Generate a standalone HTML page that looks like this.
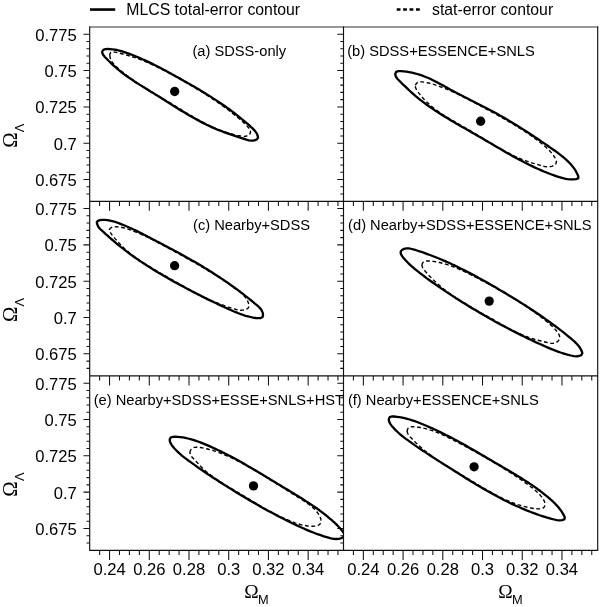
<!DOCTYPE html>
<html lang="en"><head><meta charset="utf-8"><title>MLCS contours</title>
<style>html,body{margin:0;padding:0;background:#fff;}body{width:600px;height:607px;overflow:hidden;}svg{display:block;}
text{font-family:"Liberation Sans",Arial,Helvetica,sans-serif;fill:#000;}
.tk{font-size:16.6px;}.lg{font-size:15.8px;}.pl{font-size:14.68px;}
.om{font-family:"Liberation Serif","Times New Roman",serif;font-size:19.4px;}.sub{font-size:12.8px;}
</style></head><body>
<svg width="600" height="607" viewBox="0 0 600 607">
<rect width="600" height="607" fill="#fff"/>
<defs>
<clipPath id="cpa"><rect x="89.70" y="27.00" width="253.80" height="174.30"/></clipPath>
<clipPath id="cpb"><rect x="343.50" y="27.00" width="254.20" height="174.30"/></clipPath>
<clipPath id="cpc"><rect x="89.70" y="201.30" width="253.80" height="174.60"/></clipPath>
<clipPath id="cpd"><rect x="343.50" y="201.30" width="254.20" height="174.60"/></clipPath>
<clipPath id="cpe"><rect x="89.70" y="375.90" width="253.80" height="174.50"/></clipPath>
<clipPath id="cpf"><rect x="343.50" y="375.90" width="254.20" height="174.50"/></clipPath>
</defs>
<line x1="90" y1="9.55" x2="115.2" y2="9.55" stroke="#000" stroke-width="2.6"/>
<text class="lg" x="126.3" y="14.9">MLCS total-error contour</text>
<line x1="396.7" y1="9.6" x2="420" y2="9.6" stroke="#000" stroke-width="2.5" stroke-dasharray="3.8 2.62"/>
<text class="lg" x="432.0" y="14.9">stat-error contour</text>
<path d="M89.20 27.00H598.20" stroke="#333" stroke-width="1.0" fill="none"/>
<path d="M89.20 201.30H598.20M89.20 375.90H598.20M89.20 550.40H598.20M89.70 26.60V550.90M343.50 26.60V550.90M597.70 26.60V550.90" stroke="#111" stroke-width="1.15" fill="none"/>
<path d="M89.70 194.07h-3.20M343.50 194.07h-3.20M89.70 186.81h-3.20M343.50 186.81h-3.20M89.70 179.54h-6.20M343.50 179.54h-6.20M89.70 172.28h-3.20M343.50 172.28h-3.20M89.70 165.02h-3.20M343.50 165.02h-3.20M89.70 157.75h-3.20M343.50 157.75h-3.20M89.70 150.49h-3.20M343.50 150.49h-3.20M89.70 143.22h-6.20M343.50 143.22h-6.20M89.70 135.96h-3.20M343.50 135.96h-3.20M89.70 128.70h-3.20M343.50 128.70h-3.20M89.70 121.43h-3.20M343.50 121.43h-3.20M89.70 114.17h-3.20M343.50 114.17h-3.20M89.70 106.90h-6.20M343.50 106.90h-6.20M89.70 99.64h-3.20M343.50 99.64h-3.20M89.70 92.38h-3.20M343.50 92.38h-3.20M89.70 85.11h-3.20M343.50 85.11h-3.20M89.70 77.85h-3.20M343.50 77.85h-3.20M89.70 70.58h-6.20M343.50 70.58h-6.20M89.70 63.32h-3.20M343.50 63.32h-3.20M89.70 56.06h-3.20M343.50 56.06h-3.20M89.70 48.79h-3.20M343.50 48.79h-3.20M89.70 41.53h-3.20M343.50 41.53h-3.20M89.70 34.26h-6.20M343.50 34.26h-6.20M99.63 201.30v4.60M109.56 201.30v9.50M119.49 201.30v4.60M129.42 201.30v4.60M139.35 201.30v4.60M149.28 201.30v9.50M159.21 201.30v4.60M169.14 201.30v4.60M179.07 201.30v4.60M189.00 201.30v9.50M198.93 201.30v4.60M208.86 201.30v4.60M218.79 201.30v4.60M228.72 201.30v9.50M238.65 201.30v4.60M248.58 201.30v4.60M258.51 201.30v4.60M268.44 201.30v9.50M278.37 201.30v4.60M288.30 201.30v4.60M298.23 201.30v4.60M308.16 201.30v9.50M318.09 201.30v4.60M328.02 201.30v4.60M337.95 201.30v4.60M353.43 201.30v4.60M363.36 201.30v9.50M373.29 201.30v4.60M383.22 201.30v4.60M393.15 201.30v4.60M403.08 201.30v9.50M413.01 201.30v4.60M422.94 201.30v4.60M432.87 201.30v4.60M442.80 201.30v9.50M452.73 201.30v4.60M462.66 201.30v4.60M472.59 201.30v4.60M482.52 201.30v9.50M492.45 201.30v4.60M502.38 201.30v4.60M512.31 201.30v4.60M522.24 201.30v9.50M532.17 201.30v4.60M542.10 201.30v4.60M552.03 201.30v4.60M561.96 201.30v9.50M571.89 201.30v4.60M581.82 201.30v4.60M591.75 201.30v4.60M89.70 368.37h-3.20M343.50 368.37h-3.20M89.70 361.11h-3.20M343.50 361.11h-3.20M89.70 353.84h-6.20M343.50 353.84h-6.20M89.70 346.58h-3.20M343.50 346.58h-3.20M89.70 339.32h-3.20M343.50 339.32h-3.20M89.70 332.05h-3.20M343.50 332.05h-3.20M89.70 324.79h-3.20M343.50 324.79h-3.20M89.70 317.52h-6.20M343.50 317.52h-6.20M89.70 310.26h-3.20M343.50 310.26h-3.20M89.70 303.00h-3.20M343.50 303.00h-3.20M89.70 295.73h-3.20M343.50 295.73h-3.20M89.70 288.47h-3.20M343.50 288.47h-3.20M89.70 281.20h-6.20M343.50 281.20h-6.20M89.70 273.94h-3.20M343.50 273.94h-3.20M89.70 266.68h-3.20M343.50 266.68h-3.20M89.70 259.41h-3.20M343.50 259.41h-3.20M89.70 252.15h-3.20M343.50 252.15h-3.20M89.70 244.88h-6.20M343.50 244.88h-6.20M89.70 237.62h-3.20M343.50 237.62h-3.20M89.70 230.36h-3.20M343.50 230.36h-3.20M89.70 223.09h-3.20M343.50 223.09h-3.20M89.70 215.83h-3.20M343.50 215.83h-3.20M89.70 208.56h-6.20M343.50 208.56h-6.20M99.63 375.90v4.60M109.56 375.90v9.50M119.49 375.90v4.60M129.42 375.90v4.60M139.35 375.90v4.60M149.28 375.90v9.50M159.21 375.90v4.60M169.14 375.90v4.60M179.07 375.90v4.60M189.00 375.90v9.50M198.93 375.90v4.60M208.86 375.90v4.60M218.79 375.90v4.60M228.72 375.90v9.50M238.65 375.90v4.60M248.58 375.90v4.60M258.51 375.90v4.60M268.44 375.90v9.50M278.37 375.90v4.60M288.30 375.90v4.60M298.23 375.90v4.60M308.16 375.90v9.50M318.09 375.90v4.60M328.02 375.90v4.60M337.95 375.90v4.60M353.43 375.90v4.60M363.36 375.90v9.50M373.29 375.90v4.60M383.22 375.90v4.60M393.15 375.90v4.60M403.08 375.90v9.50M413.01 375.90v4.60M422.94 375.90v4.60M432.87 375.90v4.60M442.80 375.90v9.50M452.73 375.90v4.60M462.66 375.90v4.60M472.59 375.90v4.60M482.52 375.90v9.50M492.45 375.90v4.60M502.38 375.90v4.60M512.31 375.90v4.60M522.24 375.90v9.50M532.17 375.90v4.60M542.10 375.90v4.60M552.03 375.90v4.60M561.96 375.90v9.50M571.89 375.90v4.60M581.82 375.90v4.60M591.75 375.90v4.60M89.70 542.97h-3.20M343.50 542.97h-3.20M89.70 535.71h-3.20M343.50 535.71h-3.20M89.70 528.44h-6.20M343.50 528.44h-6.20M89.70 521.18h-3.20M343.50 521.18h-3.20M89.70 513.92h-3.20M343.50 513.92h-3.20M89.70 506.65h-3.20M343.50 506.65h-3.20M89.70 499.39h-3.20M343.50 499.39h-3.20M89.70 492.12h-6.20M343.50 492.12h-6.20M89.70 484.86h-3.20M343.50 484.86h-3.20M89.70 477.60h-3.20M343.50 477.60h-3.20M89.70 470.33h-3.20M343.50 470.33h-3.20M89.70 463.07h-3.20M343.50 463.07h-3.20M89.70 455.80h-6.20M343.50 455.80h-6.20M89.70 448.54h-3.20M343.50 448.54h-3.20M89.70 441.28h-3.20M343.50 441.28h-3.20M89.70 434.01h-3.20M343.50 434.01h-3.20M89.70 426.75h-3.20M343.50 426.75h-3.20M89.70 419.48h-6.20M343.50 419.48h-6.20M89.70 412.22h-3.20M343.50 412.22h-3.20M89.70 404.96h-3.20M343.50 404.96h-3.20M89.70 397.69h-3.20M343.50 397.69h-3.20M89.70 390.43h-3.20M343.50 390.43h-3.20M89.70 383.16h-6.20M343.50 383.16h-6.20M99.63 550.40v4.60M109.56 550.40v9.50M119.49 550.40v4.60M129.42 550.40v4.60M139.35 550.40v4.60M149.28 550.40v9.50M159.21 550.40v4.60M169.14 550.40v4.60M179.07 550.40v4.60M189.00 550.40v9.50M198.93 550.40v4.60M208.86 550.40v4.60M218.79 550.40v4.60M228.72 550.40v9.50M238.65 550.40v4.60M248.58 550.40v4.60M258.51 550.40v4.60M268.44 550.40v9.50M278.37 550.40v4.60M288.30 550.40v4.60M298.23 550.40v4.60M308.16 550.40v9.50M318.09 550.40v4.60M328.02 550.40v4.60M337.95 550.40v4.60M353.43 550.40v4.60M363.36 550.40v9.50M373.29 550.40v4.60M383.22 550.40v4.60M393.15 550.40v4.60M403.08 550.40v9.50M413.01 550.40v4.60M422.94 550.40v4.60M432.87 550.40v4.60M442.80 550.40v9.50M452.73 550.40v4.60M462.66 550.40v4.60M472.59 550.40v4.60M482.52 550.40v9.50M492.45 550.40v4.60M502.38 550.40v4.60M512.31 550.40v4.60M522.24 550.40v9.50M532.17 550.40v4.60M542.10 550.40v4.60M552.03 550.40v4.60M561.96 550.40v9.50M571.89 550.40v4.60M581.82 550.40v4.60M591.75 550.40v4.60" stroke="#111" stroke-width="1.05" fill="none"/>
<text class="tk" x="76.8" y="40.66" text-anchor="end">0.775</text>
<text class="tk" x="76.8" y="76.98" text-anchor="end">0.75</text>
<text class="tk" x="76.8" y="113.30" text-anchor="end">0.725</text>
<text class="tk" x="76.8" y="149.62" text-anchor="end">0.7</text>
<text class="tk" x="76.8" y="185.94" text-anchor="end">0.675</text>
<text class="tk" x="76.8" y="214.96" text-anchor="end">0.775</text>
<text class="tk" x="76.8" y="251.28" text-anchor="end">0.75</text>
<text class="tk" x="76.8" y="287.60" text-anchor="end">0.725</text>
<text class="tk" x="76.8" y="323.92" text-anchor="end">0.7</text>
<text class="tk" x="76.8" y="360.24" text-anchor="end">0.675</text>
<text class="tk" x="76.8" y="389.56" text-anchor="end">0.775</text>
<text class="tk" x="76.8" y="425.88" text-anchor="end">0.75</text>
<text class="tk" x="76.8" y="462.20" text-anchor="end">0.725</text>
<text class="tk" x="76.8" y="498.52" text-anchor="end">0.7</text>
<text class="tk" x="76.8" y="534.84" text-anchor="end">0.675</text>
<text class="tk" x="109.56" y="575.2" text-anchor="middle">0.24</text>
<text class="tk" x="149.28" y="575.2" text-anchor="middle">0.26</text>
<text class="tk" x="189.00" y="575.2" text-anchor="middle">0.28</text>
<text class="tk" x="228.72" y="575.2" text-anchor="middle">0.3</text>
<text class="tk" x="268.44" y="575.2" text-anchor="middle">0.32</text>
<text class="tk" x="308.16" y="575.2" text-anchor="middle">0.34</text>
<text class="tk" x="363.36" y="575.2" text-anchor="middle">0.24</text>
<text class="tk" x="403.08" y="575.2" text-anchor="middle">0.26</text>
<text class="tk" x="442.80" y="575.2" text-anchor="middle">0.28</text>
<text class="tk" x="482.52" y="575.2" text-anchor="middle">0.3</text>
<text class="tk" x="522.24" y="575.2" text-anchor="middle">0.32</text>
<text class="tk" x="561.96" y="575.2" text-anchor="middle">0.34</text>
<g transform="translate(17.3 147.80) rotate(-90)"><text class="om" style="font-size:20.8px" x="0" y="0">Ω</text><text class="sub" x="15.6" y="6.8">Λ</text></g>
<g transform="translate(17.3 322.10) rotate(-90)"><text class="om" style="font-size:20.8px" x="0" y="0">Ω</text><text class="sub" x="15.6" y="6.8">Λ</text></g>
<g transform="translate(17.3 496.70) rotate(-90)"><text class="om" style="font-size:20.8px" x="0" y="0">Ω</text><text class="sub" x="15.6" y="6.8">Λ</text></g>
<text class="om" x="244.30" y="598.2">Ω</text><text class="sub" x="257.90" y="604">M</text>
<text class="om" x="498.30" y="598.2">Ω</text><text class="sub" x="511.90" y="604">M</text>
<g clip-path="url(#cpa)">
<path d="M109.8 55.7L109.9 53.7L111.0 52.4L112.8 51.9L115.0 52.1L117.4 52.6L119.7 53.2L121.9 53.8L124.1 54.4L126.1 54.9L128.2 55.5L130.1 56.1L132.1 56.7L134.1 57.3L136.0 58.0L138.0 58.7L139.9 59.4L141.9 60.2L143.8 61.0L145.7 61.7L147.6 62.6L149.5 63.4L151.5 64.3L153.4 65.1L155.2 66.0L157.1 66.9L159.0 67.9L160.9 68.8L162.8 69.8L164.7 70.7L166.5 71.7L168.4 72.7L170.2 73.7L172.1 74.7L174.0 75.7L175.8 76.7L177.6 77.7L179.5 78.8L181.3 79.8L183.2 80.9L185.0 81.9L186.8 83.0L188.7 84.0L190.5 85.1L192.3 86.2L194.1 87.2L195.9 88.3L197.7 89.4L199.5 90.5L201.3 91.6L203.1 92.7L204.9 93.8L206.6 95.0L208.4 96.1L210.1 97.3L211.9 98.4L213.6 99.6L215.4 100.8L217.1 101.9L218.8 103.1L220.5 104.3L222.2 105.6L223.9 106.8L225.6 108.0L227.3 109.3L229.0 110.5L230.6 111.8L232.3 113.1L233.9 114.4L235.5 115.7L237.1 117.0L238.7 118.3L240.3 119.7L241.9 121.1L243.5 122.5L245.1 124.0L246.6 125.6L248.2 127.3L249.5 129.0L250.4 130.8L250.5 132.5L249.6 134.2L247.9 135.5L245.9 136.3L243.8 136.5L241.7 136.3L239.6 135.8L237.5 135.4L235.4 134.9L233.3 134.4L231.3 133.8L229.3 133.3L227.3 132.6L225.3 132.0L223.3 131.3L221.3 130.6L219.4 129.9L217.4 129.1L215.5 128.3L213.6 127.4L211.7 126.6L209.8 125.7L207.9 124.8L206.0 123.8L204.1 122.9L202.3 121.9L200.4 120.9L198.6 119.9L196.7 118.9L194.9 117.9L193.1 116.8L191.2 115.7L189.4 114.7L187.6 113.6L185.8 112.5L184.0 111.4L182.2 110.3L180.4 109.2L178.6 108.1L176.8 107.0L175.0 105.9L173.2 104.8L171.4 103.7L169.6 102.6L167.8 101.5L166.0 100.5L164.2 99.4L162.4 98.3L160.6 97.3L158.8 96.2L157.0 95.1L155.2 94.0L153.5 93.0L151.7 91.9L149.9 90.8L148.1 89.7L146.3 88.6L144.6 87.5L142.8 86.4L141.0 85.3L139.3 84.1L137.5 83.0L135.8 81.8L134.1 80.6L132.3 79.4L130.6 78.2L128.9 76.9L127.2 75.7L125.5 74.4L123.8 73.1L122.1 71.7L120.5 70.4L118.8 69.0L117.2 67.6L115.6 66.1L114.2 64.6L112.9 63.0L111.7 61.3L110.8 59.5L110.2 57.7Z" fill="none" stroke="#000" stroke-width="1.4" stroke-dasharray="3.8 2.6"/>
<path d="M102.2 51.5L103.3 49.8L105.3 49.1L107.7 49.0L110.0 49.1L112.4 49.3L114.7 49.6L116.9 50.0L119.2 50.6L121.4 51.2L123.6 51.8L125.8 52.6L128.0 53.4L130.2 54.2L132.4 55.0L134.5 55.8L136.7 56.7L138.8 57.6L140.9 58.5L143.0 59.5L145.1 60.4L147.2 61.4L149.3 62.4L151.4 63.4L153.5 64.4L155.6 65.5L157.6 66.5L159.7 67.6L161.8 68.7L163.8 69.7L165.8 70.8L167.9 71.9L169.9 73.0L171.9 74.2L174.0 75.3L176.0 76.4L178.0 77.5L180.0 78.6L182.0 79.8L184.0 80.9L186.0 82.0L188.0 83.2L190.0 84.3L192.0 85.5L194.0 86.6L196.0 87.8L198.0 88.9L200.0 90.1L201.9 91.3L203.9 92.5L205.8 93.7L207.8 94.9L209.7 96.1L211.7 97.4L213.6 98.6L215.6 99.9L217.5 101.1L219.4 102.4L221.3 103.7L223.2 105.0L225.1 106.3L227.0 107.7L228.9 109.0L230.8 110.4L232.6 111.8L234.5 113.2L236.3 114.7L238.2 116.1L240.0 117.6L241.8 119.1L243.7 120.6L245.5 122.1L247.3 123.6L249.1 125.2L250.8 126.8L252.6 128.4L254.2 130.1L255.7 131.9L256.9 133.7L257.7 135.7L258.0 137.7L257.0 139.2L255.2 140.2L253.2 140.6L251.0 140.6L248.8 140.3L246.4 139.7L244.1 138.9L241.7 138.1L239.4 137.4L237.1 136.6L234.9 135.9L232.7 135.1L230.4 134.4L228.2 133.7L226.1 132.9L223.9 132.1L221.8 131.3L219.7 130.5L217.5 129.7L215.4 128.8L213.3 127.9L211.3 126.9L209.2 126.0L207.1 125.0L205.1 124.0L203.0 122.9L201.0 121.9L198.9 120.8L196.9 119.7L194.9 118.6L192.9 117.5L190.9 116.3L188.9 115.2L186.9 114.0L184.9 112.8L182.9 111.6L180.9 110.4L178.9 109.2L177.0 108.0L175.0 106.7L173.0 105.5L171.1 104.3L169.1 103.0L167.1 101.8L165.1 100.5L163.2 99.3L161.2 98.0L159.2 96.8L157.3 95.6L155.3 94.4L153.3 93.1L151.3 91.9L149.3 90.7L147.4 89.5L145.4 88.3L143.4 87.1L141.5 85.9L139.5 84.6L137.6 83.4L135.6 82.2L133.7 80.9L131.8 79.6L129.9 78.3L128.0 77.0L126.1 75.7L124.3 74.4L122.5 73.0L120.7 71.6L118.9 70.2L117.1 68.7L115.4 67.2L113.7 65.7L112.0 64.1L110.3 62.5L108.6 60.8L106.9 59.0L105.1 57.2L103.5 55.3L102.4 53.4Z" fill="none" stroke="#000" stroke-width="2.3" stroke-linejoin="round"/>
<circle cx="174.70" cy="91.50" r="4.65" fill="#000"/>
</g>
<g clip-path="url(#cpb)">
<path d="M415.4 85.3L416.2 83.7L417.7 82.5L419.7 81.9L421.9 81.9L424.1 82.1L426.3 82.5L428.5 83.0L430.6 83.5L432.6 84.1L434.6 84.7L436.6 85.4L438.6 86.1L440.6 86.8L442.5 87.5L444.5 88.3L446.4 89.1L448.4 89.9L450.3 90.7L452.2 91.5L454.1 92.4L456.0 93.3L457.9 94.2L459.8 95.1L461.7 96.0L463.6 97.0L465.5 97.9L467.4 98.9L469.3 99.9L471.1 100.8L473.0 101.8L474.9 102.8L476.7 103.8L478.6 104.8L480.5 105.8L482.3 106.9L484.2 107.9L486.0 108.9L487.9 109.9L489.8 110.9L491.6 112.0L493.5 113.0L495.4 114.0L497.2 115.0L499.1 116.1L500.9 117.1L502.8 118.1L504.6 119.2L506.5 120.2L508.3 121.3L510.1 122.4L512.0 123.4L513.8 124.5L515.6 125.6L517.4 126.7L519.2 127.8L521.0 128.9L522.7 130.1L524.5 131.2L526.3 132.4L528.0 133.5L529.7 134.7L531.4 135.9L533.2 137.2L534.8 138.4L536.5 139.6L538.2 140.9L539.8 142.2L541.5 143.5L543.1 144.8L544.7 146.1L546.3 147.5L547.8 149.0L549.3 150.5L550.8 152.1L552.2 153.8L553.6 155.7L554.9 157.6L555.8 159.6L556.4 161.4L556.2 163.1L555.3 164.5L553.7 165.6L551.6 166.4L549.3 166.8L547.1 166.8L544.9 166.6L542.9 166.1L540.9 165.5L538.8 164.9L536.8 164.3L534.8 163.7L532.7 163.1L530.7 162.4L528.7 161.8L526.7 161.1L524.7 160.3L522.7 159.6L520.8 158.8L518.8 158.0L516.9 157.1L515.0 156.3L513.1 155.4L511.2 154.4L509.3 153.5L507.4 152.6L505.6 151.6L503.7 150.6L501.9 149.6L500.0 148.6L498.2 147.5L496.4 146.5L494.5 145.4L492.7 144.3L490.9 143.3L489.1 142.2L487.3 141.1L485.5 140.0L483.7 138.9L481.9 137.8L480.1 136.7L478.3 135.6L476.5 134.5L474.6 133.4L472.8 132.3L471.0 131.2L469.2 130.1L467.4 129.0L465.5 128.0L463.7 126.9L461.8 125.9L460.0 124.8L458.2 123.8L456.3 122.7L454.5 121.7L452.6 120.6L450.8 119.5L449.0 118.4L447.2 117.4L445.4 116.3L443.7 115.1L441.9 114.0L440.2 112.8L438.4 111.6L436.8 110.4L435.1 109.2L433.4 107.9L431.8 106.6L430.2 105.2L428.7 103.8L427.1 102.4L425.6 100.9L424.2 99.4L422.7 97.8L421.3 96.2L419.9 94.4L418.5 92.7L417.2 90.8L416.1 88.9L415.4 87.1Z" fill="none" stroke="#000" stroke-width="1.4" stroke-dasharray="3.8 2.6"/>
<path d="M395.2 74.1L396.1 71.9L398.3 71.1L401.0 71.2L403.8 71.4L406.5 71.7L409.2 72.1L412.0 72.7L414.7 73.3L417.3 74.0L420.0 74.8L422.6 75.7L425.1 76.7L427.6 77.7L430.1 78.8L432.5 80.0L434.9 81.2L437.3 82.4L439.7 83.7L442.1 85.0L444.4 86.3L446.8 87.6L449.2 88.9L451.5 90.2L453.9 91.5L456.3 92.8L458.7 94.0L461.2 95.3L463.6 96.6L466.0 97.8L468.5 99.0L470.9 100.3L473.4 101.5L475.8 102.8L478.2 104.0L480.7 105.2L483.1 106.5L485.6 107.7L488.0 109.0L490.4 110.3L492.8 111.5L495.2 112.8L497.6 114.1L499.9 115.5L502.3 116.8L504.6 118.1L507.0 119.5L509.3 120.9L511.6 122.3L513.9 123.7L516.2 125.1L518.5 126.5L520.8 127.9L523.1 129.4L525.3 130.8L527.6 132.3L529.9 133.8L532.2 135.3L534.4 136.8L536.7 138.3L539.0 139.8L541.2 141.4L543.5 142.9L545.8 144.5L548.1 146.0L550.3 147.6L552.6 149.2L554.9 150.8L557.2 152.4L559.4 154.1L561.6 155.8L563.7 157.5L565.8 159.3L567.7 161.1L569.6 163.0L571.4 165.0L573.1 167.1L574.6 169.2L576.0 171.4L577.2 173.8L578.3 176.2L578.3 178.3L575.9 179.1L573.0 179.4L570.2 179.4L567.4 179.1L564.7 178.6L562.0 177.9L559.4 177.2L556.7 176.3L554.1 175.4L551.6 174.5L549.0 173.5L546.5 172.5L543.9 171.5L541.4 170.4L538.9 169.3L536.5 168.2L534.0 167.1L531.6 165.9L529.1 164.7L526.7 163.5L524.3 162.3L521.9 161.0L519.5 159.8L517.1 158.5L514.7 157.2L512.4 155.9L510.0 154.5L507.6 153.2L505.3 151.9L502.9 150.5L500.6 149.1L498.2 147.8L495.9 146.4L493.5 145.0L491.2 143.6L488.8 142.3L486.5 140.9L484.1 139.5L481.8 138.1L479.4 136.8L477.1 135.4L474.7 134.0L472.3 132.7L469.9 131.3L467.6 130.0L465.2 128.6L462.8 127.3L460.4 125.9L458.1 124.6L455.7 123.2L453.4 121.8L451.0 120.4L448.7 119.0L446.4 117.6L444.0 116.2L441.7 114.8L439.4 113.3L437.2 111.8L434.9 110.4L432.7 108.8L430.4 107.3L428.2 105.8L426.0 104.2L423.9 102.6L421.7 100.9L419.6 99.3L417.5 97.6L415.4 95.9L413.4 94.1L411.4 92.3L409.4 90.5L407.4 88.6L405.4 86.7L403.4 84.8L401.3 82.8L399.3 80.7L397.3 78.7L395.8 76.5Z" fill="none" stroke="#000" stroke-width="2.3" stroke-linejoin="round"/>
<circle cx="480.65" cy="121.25" r="4.65" fill="#000"/>
</g>
<g clip-path="url(#cpc)">
<path d="M109.4 229.6L110.1 228.4L111.6 227.5L113.6 227.0L115.8 226.8L118.0 226.9L120.1 227.1L122.2 227.5L124.2 228.0L126.2 228.6L128.2 229.2L130.1 229.9L132.1 230.6L134.1 231.4L136.0 232.1L137.9 232.9L139.9 233.7L141.8 234.6L143.7 235.4L145.6 236.3L147.5 237.2L149.3 238.1L151.2 239.0L153.1 240.0L154.9 240.9L156.8 241.9L158.7 242.8L160.5 243.8L162.3 244.8L164.2 245.8L166.0 246.8L167.9 247.8L169.7 248.8L171.5 249.8L173.3 250.8L175.2 251.8L177.0 252.8L178.8 253.8L180.6 254.8L182.5 255.8L184.3 256.8L186.1 257.8L187.9 258.8L189.7 259.8L191.5 260.8L193.3 261.9L195.1 262.9L196.9 263.9L198.7 265.0L200.5 266.0L202.3 267.1L204.1 268.1L205.9 269.2L207.6 270.3L209.4 271.3L211.2 272.4L213.0 273.5L214.7 274.7L216.5 275.8L218.3 276.9L220.0 278.0L221.8 279.2L223.5 280.4L225.3 281.5L227.0 282.7L228.7 283.9L230.5 285.1L232.2 286.3L233.9 287.6L235.7 288.8L237.4 290.1L239.1 291.4L240.7 292.7L242.3 294.1L243.7 295.6L245.1 297.1L246.3 298.8L247.4 300.5L248.2 302.4L248.9 304.4L249.0 306.3L248.4 307.9L247.0 309.0L245.0 309.8L242.7 310.1L240.4 310.2L238.3 309.9L236.2 309.5L234.2 308.9L232.2 308.3L230.2 307.7L228.2 307.1L226.2 306.4L224.3 305.7L222.3 305.0L220.3 304.3L218.4 303.5L216.5 302.7L214.5 301.9L212.6 301.1L210.7 300.3L208.8 299.4L206.9 298.5L205.1 297.7L203.2 296.8L201.3 295.8L199.5 294.9L197.7 294.0L195.8 293.0L194.0 292.0L192.2 291.0L190.3 290.1L188.5 289.1L186.7 288.0L184.9 287.0L183.1 286.0L181.2 285.0L179.4 283.9L177.6 282.9L175.8 281.9L174.0 280.8L172.2 279.8L170.4 278.7L168.5 277.7L166.7 276.7L164.9 275.6L163.1 274.6L161.2 273.5L159.4 272.5L157.6 271.4L155.8 270.4L153.9 269.3L152.1 268.3L150.3 267.2L148.5 266.1L146.8 265.0L145.0 263.9L143.2 262.8L141.5 261.6L139.8 260.5L138.0 259.3L136.4 258.1L134.7 256.9L133.0 255.7L131.4 254.4L129.8 253.2L128.3 251.8L126.7 250.5L125.2 249.2L123.7 247.8L122.3 246.3L120.8 244.9L119.4 243.4L117.9 241.8L116.5 240.2L115.1 238.6L113.6 236.8L112.2 235.1L110.8 233.2L109.7 231.4Z" fill="none" stroke="#000" stroke-width="1.4" stroke-dasharray="3.8 2.6"/>
<path d="M96.8 222.2L97.9 220.8L100.0 220.2L102.3 219.9L104.7 219.9L107.2 220.1L109.6 220.5L112.0 221.1L114.5 221.7L116.9 222.5L119.3 223.4L121.7 224.3L124.0 225.2L126.3 226.2L128.6 227.2L130.9 228.2L133.1 229.3L135.3 230.3L137.5 231.4L139.7 232.5L141.9 233.6L144.0 234.7L146.2 235.8L148.3 236.9L150.5 238.1L152.7 239.2L154.8 240.3L157.0 241.5L159.2 242.6L161.4 243.8L163.6 244.9L165.8 246.1L168.0 247.2L170.2 248.4L172.4 249.6L174.6 250.8L176.8 251.9L179.0 253.1L181.2 254.3L183.3 255.5L185.5 256.7L187.7 257.9L189.9 259.2L192.0 260.4L194.2 261.6L196.3 262.8L198.4 264.1L200.5 265.3L202.6 266.6L204.7 267.9L206.8 269.1L208.9 270.4L211.0 271.7L213.0 273.0L215.1 274.4L217.1 275.7L219.2 277.0L221.2 278.4L223.2 279.7L225.3 281.1L227.3 282.5L229.3 283.9L231.3 285.4L233.3 286.8L235.3 288.2L237.3 289.7L239.3 291.2L241.3 292.7L243.3 294.2L245.3 295.8L247.3 297.3L249.2 298.9L251.2 300.5L253.2 302.1L255.2 303.8L257.2 305.4L259.0 307.1L260.7 308.9L261.9 310.9L262.8 312.9L263.0 315.2L262.5 317.1L260.8 318.1L258.4 318.2L255.7 318.0L253.0 317.6L250.5 317.0L248.0 316.4L245.5 315.8L243.2 315.0L240.8 314.2L238.5 313.3L236.3 312.4L234.0 311.5L231.8 310.5L229.5 309.5L227.3 308.5L225.1 307.5L222.9 306.4L220.6 305.4L218.4 304.4L216.2 303.3L214.0 302.3L211.8 301.2L209.5 300.1L207.3 299.1L205.1 298.0L202.9 296.9L200.7 295.8L198.5 294.6L196.3 293.5L194.1 292.4L191.9 291.3L189.7 290.1L187.5 289.0L185.3 287.8L183.2 286.6L181.0 285.4L178.8 284.3L176.6 283.1L174.5 281.9L172.3 280.7L170.2 279.4L168.0 278.2L165.9 277.0L163.7 275.7L161.6 274.5L159.4 273.2L157.3 272.0L155.2 270.7L153.1 269.4L151.0 268.1L148.9 266.8L146.8 265.4L144.7 264.1L142.7 262.8L140.6 261.4L138.6 260.0L136.6 258.6L134.5 257.2L132.5 255.8L130.5 254.4L128.5 252.9L126.6 251.4L124.6 249.9L122.7 248.4L120.7 246.9L118.8 245.4L116.9 243.8L115.0 242.2L113.2 240.6L111.3 239.0L109.4 237.4L107.6 235.7L105.7 234.1L103.9 232.4L102.0 230.7L100.1 229.0L98.5 227.0L97.3 224.6Z" fill="none" stroke="#000" stroke-width="2.3" stroke-linejoin="round"/>
<circle cx="174.60" cy="265.70" r="4.65" fill="#000"/>
</g>
<g clip-path="url(#cpd)">
<path d="M421.9 265.2L422.3 263.5L423.3 262.1L425.0 261.3L427.0 261.0L429.1 261.0L431.3 261.2L433.4 261.4L435.5 261.7L437.6 262.1L439.6 262.5L441.6 263.0L443.6 263.5L445.6 264.1L447.6 264.7L449.5 265.4L451.5 266.1L453.4 266.8L455.3 267.5L457.2 268.3L459.0 269.1L460.9 270.0L462.8 270.8L464.6 271.7L466.5 272.6L468.3 273.5L470.1 274.4L472.0 275.3L473.8 276.3L475.6 277.2L477.5 278.2L479.3 279.1L481.1 280.1L483.0 281.0L484.8 282.0L486.6 283.0L488.4 284.0L490.3 284.9L492.1 285.9L493.9 286.9L495.7 287.9L497.5 289.0L499.3 290.0L501.1 291.0L502.9 292.1L504.7 293.1L506.5 294.2L508.3 295.2L510.1 296.3L511.9 297.4L513.6 298.4L515.4 299.5L517.1 300.6L518.9 301.7L520.6 302.8L522.4 304.0L524.1 305.1L525.8 306.2L527.5 307.4L529.2 308.6L530.9 309.7L532.6 310.9L534.2 312.1L535.9 313.3L537.5 314.5L539.2 315.7L540.8 316.9L542.4 318.2L544.0 319.4L545.6 320.7L547.2 321.9L548.7 323.2L550.3 324.6L551.9 326.0L553.4 327.5L554.9 329.1L556.4 330.8L557.8 332.6L558.9 334.4L559.6 336.3L559.7 338.1L559.1 339.7L558.0 341.2L556.4 342.4L554.6 343.1L552.6 343.4L550.5 343.2L548.4 342.8L546.2 342.2L544.1 341.7L542.1 341.2L540.0 340.7L538.0 340.2L536.0 339.7L534.0 339.1L532.0 338.5L530.1 337.8L528.2 337.2L526.2 336.5L524.3 335.7L522.4 334.9L520.6 334.1L518.7 333.3L516.8 332.4L515.0 331.5L513.2 330.6L511.3 329.7L509.5 328.8L507.7 327.8L505.9 326.8L504.1 325.8L502.3 324.8L500.5 323.8L498.7 322.8L496.9 321.8L495.1 320.7L493.3 319.7L491.5 318.7L489.7 317.6L487.9 316.6L486.1 315.6L484.3 314.6L482.4 313.5L480.6 312.5L478.8 311.5L477.0 310.5L475.2 309.4L473.4 308.4L471.6 307.4L469.8 306.3L468.1 305.3L466.3 304.2L464.5 303.1L462.8 302.1L461.0 301.0L459.3 299.9L457.5 298.7L455.8 297.6L454.1 296.5L452.4 295.3L450.7 294.1L449.1 293.0L447.4 291.7L445.8 290.5L444.1 289.3L442.5 288.0L441.0 286.7L439.4 285.4L437.9 284.1L436.3 282.7L434.8 281.3L433.4 279.9L431.9 278.5L430.5 277.0L429.0 275.5L427.6 273.9L426.1 272.3L424.6 270.5L423.2 268.8L422.3 267.0Z" fill="none" stroke="#000" stroke-width="1.4" stroke-dasharray="3.8 2.6"/>
<path d="M400.7 251.7L402.0 249.9L404.1 248.8L406.5 248.3L409.0 248.4L411.7 249.0L414.3 249.7L417.0 250.5L419.6 251.4L422.3 252.2L424.9 253.1L427.4 254.1L430.0 255.0L432.6 256.0L435.1 257.0L437.6 258.0L440.1 259.0L442.6 260.1L445.1 261.1L447.6 262.2L450.0 263.3L452.5 264.5L454.9 265.6L457.3 266.8L459.7 268.0L462.1 269.2L464.5 270.4L466.9 271.6L469.3 272.8L471.7 274.1L474.0 275.3L476.4 276.6L478.7 277.9L481.1 279.2L483.4 280.5L485.8 281.8L488.1 283.1L490.4 284.5L492.8 285.8L495.1 287.1L497.4 288.5L499.7 289.9L502.1 291.2L504.4 292.6L506.7 294.0L509.0 295.4L511.3 296.8L513.6 298.2L515.9 299.6L518.2 301.0L520.5 302.4L522.8 303.9L525.1 305.3L527.3 306.8L529.6 308.2L531.8 309.7L534.1 311.2L536.3 312.7L538.6 314.2L540.8 315.8L543.0 317.3L545.2 318.9L547.4 320.4L549.6 322.0L551.8 323.6L554.0 325.2L556.2 326.8L558.3 328.4L560.5 330.1L562.6 331.7L564.7 333.4L566.8 335.1L568.9 336.8L571.0 338.5L573.1 340.3L575.1 342.1L576.9 344.0L578.7 346.0L580.2 348.2L581.5 350.6L582.4 353.1L581.4 355.1L579.0 356.0L576.4 356.3L573.8 356.1L571.0 355.5L568.3 354.8L565.7 354.1L563.1 353.3L560.5 352.5L557.9 351.6L555.4 350.6L552.8 349.6L550.3 348.6L547.9 347.6L545.4 346.5L542.9 345.4L540.5 344.3L538.1 343.2L535.6 342.1L533.2 340.9L530.8 339.8L528.3 338.6L525.9 337.5L523.5 336.3L521.1 335.1L518.7 333.9L516.3 332.7L513.9 331.5L511.5 330.3L509.1 329.0L506.8 327.8L504.4 326.5L502.0 325.2L499.6 324.0L497.3 322.7L494.9 321.4L492.6 320.1L490.2 318.7L487.9 317.4L485.5 316.1L483.2 314.7L480.9 313.4L478.5 312.0L476.2 310.6L473.9 309.3L471.6 307.9L469.3 306.5L466.9 305.0L464.6 303.6L462.3 302.2L460.0 300.8L457.8 299.3L455.5 297.9L453.2 296.4L450.9 294.9L448.6 293.4L446.4 291.9L444.1 290.4L441.9 288.9L439.7 287.4L437.5 285.9L435.3 284.3L433.1 282.8L430.9 281.2L428.8 279.7L426.6 278.1L424.5 276.5L422.4 274.9L420.3 273.3L418.2 271.7L416.2 270.1L414.1 268.4L412.1 266.6L410.1 264.8L408.0 262.8L406.0 260.7L403.9 258.4L402.1 256.1L400.8 253.8Z" fill="none" stroke="#000" stroke-width="2.3" stroke-linejoin="round"/>
<circle cx="489.20" cy="301.10" r="4.65" fill="#000"/>
</g>
<g clip-path="url(#cpe)">
<path d="M189.9 452.5L190.3 450.7L191.3 449.2L192.7 448.0L194.3 447.4L196.2 447.2L198.2 447.3L200.3 447.5L202.3 447.9L204.4 448.3L206.4 448.7L208.3 449.2L210.3 449.7L212.2 450.2L214.1 450.8L216.0 451.4L217.8 452.1L219.7 452.8L221.5 453.5L223.3 454.2L225.1 455.0L226.9 455.8L228.6 456.6L230.4 457.4L232.2 458.2L233.9 459.1L235.7 460.0L237.4 460.9L239.2 461.7L240.9 462.7L242.7 463.6L244.4 464.5L246.1 465.5L247.9 466.4L249.6 467.4L251.3 468.4L253.0 469.3L254.7 470.3L256.4 471.3L258.2 472.3L259.9 473.4L261.6 474.4L263.3 475.4L265.0 476.4L266.6 477.5L268.3 478.5L270.0 479.6L271.7 480.6L273.4 481.7L275.1 482.7L276.7 483.8L278.4 484.8L280.1 485.9L281.8 487.0L283.4 488.0L285.1 489.1L286.8 490.1L288.4 491.2L290.1 492.2L291.7 493.3L293.4 494.3L295.1 495.4L296.7 496.4L298.4 497.4L300.0 498.4L301.7 499.5L303.3 500.5L304.9 501.6L306.5 502.7L308.1 503.8L309.7 505.0L311.3 506.3L312.8 507.6L314.3 509.0L315.7 510.4L317.0 512.0L318.2 513.6L319.2 515.3L320.1 517.1L320.8 519.0L321.1 520.9L320.8 522.6L320.0 524.1L318.5 525.2L316.7 525.8L314.7 526.1L312.6 526.2L310.6 526.2L308.6 526.1L306.6 525.8L304.6 525.5L302.7 525.1L300.8 524.6L298.9 524.0L297.0 523.4L295.1 522.8L293.3 522.1L291.4 521.4L289.6 520.7L287.7 520.0L285.9 519.2L284.1 518.4L282.3 517.6L280.6 516.8L278.8 515.9L277.0 515.0L275.3 514.1L273.5 513.2L271.8 512.3L270.1 511.4L268.3 510.4L266.6 509.5L264.9 508.5L263.2 507.5L261.5 506.5L259.8 505.5L258.1 504.5L256.4 503.5L254.7 502.5L253.0 501.4L251.3 500.4L249.6 499.4L247.9 498.4L246.2 497.4L244.5 496.4L242.8 495.4L241.2 494.3L239.5 493.3L237.8 492.3L236.1 491.3L234.4 490.3L232.7 489.3L231.0 488.3L229.3 487.3L227.6 486.3L225.9 485.3L224.3 484.2L222.6 483.2L220.9 482.1L219.2 481.0L217.6 479.9L215.9 478.8L214.3 477.7L212.7 476.5L211.1 475.4L209.5 474.2L208.0 473.0L206.4 471.7L205.0 470.5L203.5 469.2L202.2 467.8L200.8 466.5L199.5 465.1L198.2 463.6L196.9 462.2L195.4 460.7L193.9 459.1L192.4 457.5L191.1 455.9L190.3 454.2Z" fill="none" stroke="#000" stroke-width="1.4" stroke-dasharray="3.8 2.6"/>
<path d="M169.7 439.4L170.7 437.6L172.7 436.8L175.2 436.7L177.8 436.8L180.3 437.1L182.9 437.4L185.4 437.9L187.9 438.5L190.5 439.1L193.0 439.8L195.4 440.6L197.9 441.5L200.4 442.4L202.8 443.4L205.2 444.4L207.7 445.4L210.0 446.4L212.4 447.5L214.8 448.6L217.2 449.7L219.5 450.8L221.8 451.9L224.1 453.1L226.5 454.2L228.8 455.4L231.0 456.6L233.3 457.8L235.6 459.1L237.9 460.3L240.1 461.6L242.4 462.8L244.6 464.1L246.8 465.4L249.1 466.7L251.3 468.0L253.5 469.3L255.7 470.6L258.0 471.9L260.2 473.3L262.4 474.6L264.6 475.9L266.8 477.3L269.0 478.6L271.2 479.9L273.4 481.3L275.7 482.6L277.9 484.0L280.1 485.3L282.3 486.6L284.5 488.0L286.8 489.3L289.0 490.6L291.2 492.0L293.4 493.3L295.6 494.7L297.9 496.0L300.1 497.4L302.3 498.8L304.4 500.2L306.6 501.6L308.8 503.0L310.9 504.4L313.1 505.9L315.2 507.3L317.3 508.8L319.4 510.3L321.5 511.9L323.5 513.4L325.6 515.0L327.6 516.6L329.5 518.3L331.5 519.9L333.4 521.7L335.3 523.4L337.2 525.2L339.1 527.2L340.9 529.2L342.7 531.5L344.1 533.7L344.3 535.7L343.1 537.3L341.0 538.3L338.7 538.9L336.2 539.0L333.6 538.8L331.0 538.3L328.4 537.6L325.8 536.9L323.2 536.1L320.7 535.2L318.2 534.4L315.7 533.5L313.3 532.5L310.9 531.6L308.5 530.6L306.1 529.6L303.8 528.5L301.4 527.5L299.1 526.4L296.8 525.4L294.5 524.3L292.2 523.2L289.9 522.0L287.6 520.9L285.3 519.8L283.0 518.6L280.7 517.4L278.4 516.2L276.1 515.1L273.8 513.8L271.5 512.6L269.3 511.4L267.0 510.2L264.7 508.9L262.5 507.7L260.2 506.4L257.9 505.1L255.7 503.8L253.4 502.5L251.2 501.2L249.0 499.9L246.7 498.6L244.5 497.3L242.3 495.9L240.0 494.6L237.8 493.2L235.6 491.9L233.4 490.5L231.2 489.1L228.9 487.8L226.7 486.4L224.5 485.0L222.3 483.6L220.1 482.2L218.0 480.8L215.8 479.4L213.6 478.0L211.4 476.5L209.3 475.1L207.1 473.7L205.0 472.2L202.9 470.8L200.7 469.3L198.6 467.9L196.5 466.4L194.5 464.9L192.4 463.4L190.3 461.9L188.3 460.5L186.2 458.9L184.2 457.4L182.2 455.8L180.3 454.2L178.3 452.4L176.4 450.5L174.5 448.5L172.6 446.3L171.0 443.9L169.9 441.6Z" fill="none" stroke="#000" stroke-width="2.3" stroke-linejoin="round"/>
<circle cx="253.50" cy="485.90" r="4.65" fill="#000"/>
</g>
<g clip-path="url(#cpf)">
<path d="M407.1 431.4L407.4 429.6L408.3 428.0L409.8 427.0L411.7 426.7L413.9 426.8L416.1 427.0L418.2 427.2L420.3 427.5L422.4 427.9L424.4 428.4L426.5 428.9L428.5 429.5L430.4 430.1L432.4 430.7L434.3 431.4L436.2 432.1L438.2 432.9L440.0 433.7L441.9 434.5L443.8 435.3L445.6 436.2L447.5 437.1L449.3 438.0L451.2 438.9L453.0 439.8L454.8 440.8L456.6 441.8L458.5 442.7L460.3 443.7L462.1 444.7L463.9 445.6L465.8 446.6L467.6 447.6L469.4 448.6L471.2 449.6L473.0 450.6L474.9 451.6L476.7 452.6L478.5 453.6L480.3 454.6L482.1 455.6L483.9 456.6L485.7 457.7L487.5 458.7L489.3 459.7L491.1 460.8L492.9 461.8L494.7 462.9L496.5 463.9L498.2 465.0L500.0 466.1L501.8 467.2L503.5 468.3L505.3 469.3L507.0 470.4L508.8 471.6L510.5 472.7L512.2 473.8L513.9 474.9L515.7 476.1L517.4 477.2L519.1 478.4L520.7 479.5L522.4 480.7L524.1 481.9L525.7 483.1L527.4 484.3L529.0 485.5L530.7 486.7L532.3 487.9L533.9 489.2L535.4 490.5L537.0 491.9L538.5 493.3L540.0 494.9L541.4 496.6L542.8 498.4L543.9 500.3L544.7 502.2L545.0 504.1L544.7 506.0L543.8 507.6L542.3 508.6L540.4 508.9L538.3 508.9L536.2 508.8L534.1 508.5L532.0 508.2L530.0 507.9L527.9 507.4L525.8 506.9L523.8 506.4L521.8 505.8L519.8 505.2L517.8 504.6L515.9 503.9L513.9 503.2L512.0 502.5L510.1 501.7L508.2 500.9L506.3 500.1L504.4 499.2L502.6 498.4L500.7 497.5L498.9 496.6L497.1 495.6L495.3 494.7L493.5 493.7L491.7 492.7L489.9 491.7L488.1 490.7L486.3 489.7L484.5 488.6L482.8 487.6L481.0 486.6L479.2 485.5L477.4 484.4L475.7 483.4L473.9 482.3L472.1 481.2L470.4 480.2L468.6 479.1L466.8 478.0L465.0 477.0L463.2 475.9L461.4 474.8L459.6 473.8L457.9 472.7L456.1 471.7L454.3 470.6L452.5 469.5L450.7 468.4L448.9 467.4L447.2 466.3L445.4 465.2L443.7 464.1L441.9 463.0L440.2 461.8L438.5 460.7L436.8 459.5L435.1 458.4L433.4 457.2L431.7 456.0L430.1 454.8L428.4 453.5L426.8 452.3L425.2 451.0L423.7 449.7L422.1 448.4L420.6 447.1L419.1 445.7L417.6 444.3L416.1 442.9L414.6 441.4L413.1 439.9L411.6 438.3L410.0 436.7L408.7 435.0L407.6 433.3Z" fill="none" stroke="#000" stroke-width="1.4" stroke-dasharray="3.8 2.6"/>
<path d="M388.8 419.0L389.7 417.2L391.7 416.5L394.3 416.5L396.9 416.8L399.5 417.1L402.1 417.6L404.6 418.1L407.2 418.8L409.7 419.5L412.2 420.3L414.7 421.1L417.2 422.0L419.6 423.0L422.1 424.0L424.5 425.0L426.9 426.0L429.3 427.1L431.7 428.1L434.1 429.2L436.5 430.3L438.9 431.5L441.2 432.6L443.6 433.8L445.9 435.0L448.2 436.1L450.6 437.3L452.9 438.6L455.2 439.8L457.5 441.0L459.8 442.3L462.1 443.5L464.4 444.8L466.7 446.1L468.9 447.4L471.2 448.7L473.5 450.0L475.7 451.3L478.0 452.6L480.2 453.9L482.5 455.2L484.8 456.6L487.0 457.9L489.3 459.2L491.5 460.5L493.8 461.9L496.0 463.2L498.3 464.5L500.5 465.8L502.8 467.2L505.0 468.5L507.3 469.8L509.5 471.1L511.8 472.4L514.0 473.8L516.3 475.1L518.5 476.5L520.7 477.8L522.9 479.2L525.1 480.6L527.3 482.0L529.5 483.5L531.7 484.9L533.8 486.4L536.0 487.9L538.1 489.5L540.2 491.0L542.3 492.6L544.4 494.3L546.4 495.9L548.5 497.6L550.5 499.4L552.5 501.1L554.4 503.0L556.2 504.9L558.0 506.8L559.6 508.8L561.2 510.9L562.6 513.1L563.9 515.3L564.8 517.5L564.4 519.2L562.4 520.1L559.6 520.3L556.8 520.1L554.2 519.5L551.6 518.9L549.0 518.1L546.5 517.4L543.9 516.6L541.4 515.8L538.9 515.0L536.4 514.1L534.0 513.2L531.5 512.3L529.1 511.3L526.7 510.4L524.3 509.4L521.9 508.4L519.5 507.3L517.1 506.3L514.7 505.2L512.4 504.1L510.0 503.0L507.7 501.8L505.4 500.7L503.0 499.5L500.7 498.3L498.4 497.1L496.1 495.8L493.8 494.6L491.5 493.3L489.3 492.1L487.0 490.8L484.7 489.5L482.5 488.2L480.2 486.8L477.9 485.5L475.7 484.2L473.5 482.8L471.2 481.4L469.0 480.1L466.7 478.7L464.5 477.3L462.3 475.9L460.1 474.5L457.8 473.1L455.6 471.7L453.4 470.3L451.2 468.9L449.0 467.5L446.7 466.1L444.5 464.7L442.3 463.3L440.1 461.9L437.9 460.5L435.7 459.1L433.5 457.6L431.3 456.2L429.1 454.8L426.9 453.4L424.7 451.9L422.5 450.5L420.4 449.0L418.2 447.6L416.1 446.1L414.0 444.6L411.9 443.1L409.8 441.6L407.7 440.1L405.6 438.6L403.6 437.1L401.6 435.5L399.6 433.8L397.6 432.0L395.6 430.1L393.7 428.1L391.8 425.9L390.1 423.6L389.0 421.2Z" fill="none" stroke="#000" stroke-width="2.3" stroke-linejoin="round"/>
<circle cx="474.10" cy="466.80" r="4.65" fill="#000"/>
</g>
<text class="pl" x="192.40" y="56.00">(a) SDSS-only</text>
<text class="pl" x="347.20" y="56.00">(b) SDSS+ESSENCE+SNLS</text>
<text class="pl" x="193.00" y="230.30">(c) Nearby+SDSS</text>
<text class="pl" x="348.10" y="230.30">(d) Nearby+SDSS+ESSENCE+SNLS</text>
<text class="pl" x="93.70" y="404.80">(e) Nearby+SDSS+ESSE+SNLS+HST</text>
<text class="pl" x="347.90" y="404.80">(f) Nearby+ESSENCE+SNLS</text>
</svg></body></html>
